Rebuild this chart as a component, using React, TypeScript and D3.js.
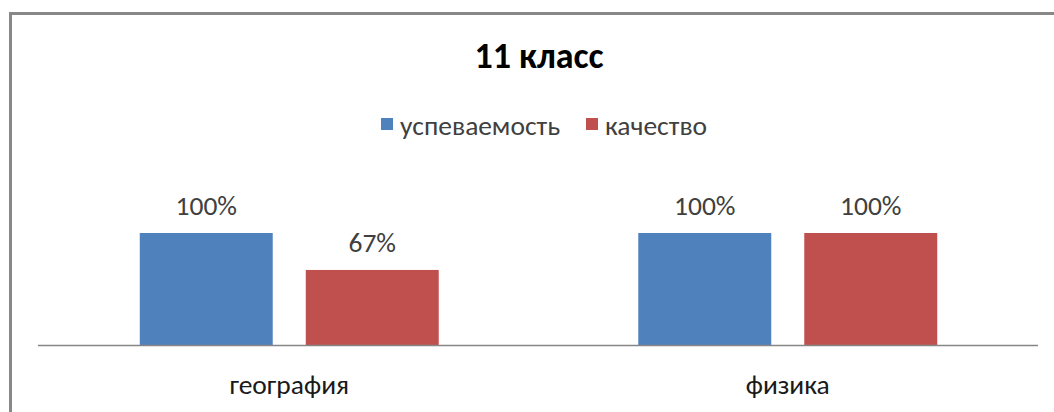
import * as d3 from "d3";

const categories = ["география", "физика"];
const seriesNames = ["успеваемость", "качество"];
const seriesColors = ["#4f81bd", "#c0504d"];
const successValues = [1.0, 1.0];
const qualityValues = [0.67, 1.0];
const title = "11 класс";

const W = 1054;
const H = 412;
const FONT = "Calibri, Carlito, 'Liberation Sans', Arial, sans-serif";

export default function App() {
  const values = [successValues, qualityValues];
  const x0 = d3.scaleBand<string>().domain(categories).range([40, 1037]).padding(0);
  const x1 = d3
    .scaleBand<string>()
    .domain(seriesNames)
    .range([0, x0.bandwidth()])
    .paddingInner(0.199)
    .paddingOuter(0.601);
  const y = d3.scaleLinear().domain([0, 1]).range([345, 233]);
  const pct = d3.format(".0%");

  // legend layout: square + label, two entries
  const legend = [
    { name: seriesNames[0], color: seriesColors[0], x: 381 },
    { name: seriesNames[1], color: seriesColors[1], x: 586 },
  ];

  return (
    <div style={{ position: "absolute", left: 0, top: 0 }}>
      <svg width={W} height={H} style={{ display: "block", background: "#fff" }} fontFamily={FONT}>
        <rect x={10.5} y={13.5} width={1100} height={500} fill="#fff" stroke="#888" strokeWidth={3} />
        <text x={539} y={68} textAnchor="middle" fontSize={36} fontWeight="bold" fill="#000">
          {title}
        </text>

        {legend.map((l) => (
          <g key={l.name}>
            <rect x={l.x} y={118} width={12} height={12} fill={l.color} />
            <text x={l.x + 19} y={135} fontSize={27.5} fill="#404040">
              {l.name}
            </text>
          </g>
        ))}

        {categories.map((c, i) => (
          <g key={c} transform={`translate(${x0(c)},0)`}>
            {seriesNames.map((s, j) => {
              const v = values[j][i];
              const bx = x1(s) ?? 0;
              return (
                <g key={s}>
                  <rect x={bx} y={y(v)} width={x1.bandwidth()} height={y(0) - y(v)} fill={seriesColors[j]} />
                  <text
                    x={bx + x1.bandwidth() / 2}
                    y={y(v) - 18}
                    textAnchor="middle"
                    fontSize={27.5}
                    fill="#404040"
                  >
                    {pct(v)}
                  </text>
                </g>
              );
            })}
            <text x={x0.bandwidth() / 2} y={394} textAnchor="middle" fontSize={27.5} fill="#1a1a1a">
              {c}
            </text>
          </g>
        ))}

        <line x1={38} x2={1038} y1={345.5} y2={345.5} stroke="#868686" strokeWidth={1.5} />
      </svg>
    </div>
  );
}
